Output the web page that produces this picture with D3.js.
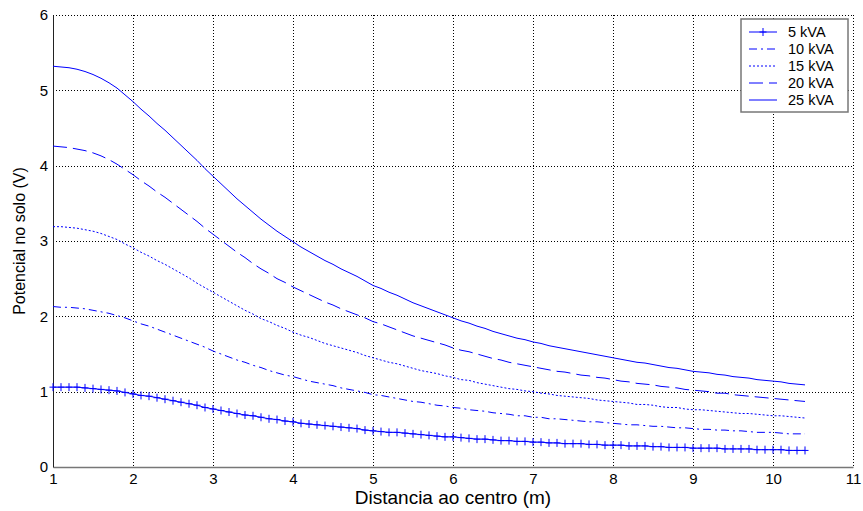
<!DOCTYPE html>
<meta charset="utf-8">
<style>
body { margin: 0; background: #fff; }
svg { display: block; }
.tick text { font: 15px Arial, "Liberation Sans", sans-serif; fill: #000; }
.xlabel { font: 19px Arial, "Liberation Sans", sans-serif; fill: #000; }
.ylabel { font: 16px Arial, "Liberation Sans", sans-serif; fill: #000; }
.legend text { font: 14.5px Arial, "Liberation Sans", sans-serif; fill: #000; }
.grid line { stroke: #000; stroke-width: 1; stroke-dasharray: 1,2; shape-rendering: crispEdges; }
</style>
<script src="https://d3js.org/d3.v7.min.js"></script>
<body>
<svg width="863" height="511"></svg>
<script>

// distance from centre (m)
var distancia = [
  1.0,1.1,1.2,1.3,1.4,1.5,1.6,1.7,1.8,1.9,
  2.0,2.1,2.2,2.3,2.4,2.5,2.6,2.7,2.8,2.9,
  3.0,3.1,3.2,3.3,3.4,3.5,3.6,3.7,3.8,3.9,
  4.0,4.1,4.2,4.3,4.4,4.5,4.6,4.7,4.8,4.9,
  5.0,5.1,5.2,5.3,5.4,5.5,5.6,5.7,5.8,5.9,
  6.0,6.1,6.2,6.3,6.4,6.5,6.6,6.7,6.8,6.9,
  7.0,7.1,7.2,7.3,7.4,7.5,7.6,7.7,7.8,7.9,
  8.0,8.1,8.2,8.3,8.4,8.5,8.6,8.7,8.8,8.9,
  9.0,9.1,9.2,9.3,9.4,9.5,9.6,9.7,9.8,9.9,
  10.0,10.1,10.2,10.3,10.4
];

var v5 = [
  1.06,1.06,1.06,1.06,1.05,1.04,1.03,1.02,1.01,0.99,
  0.97,0.95,0.94,0.92,0.90,0.88,0.86,0.84,0.82,0.79,
  0.77,0.75,0.73,0.71,0.69,0.68,0.66,0.64,0.63,0.61,
  0.60,0.58,0.57,0.56,0.55,0.54,0.53,0.52,0.51,0.49,
  0.48,0.47,0.46,0.46,0.45,0.44,0.43,0.42,0.41,0.40,
  0.40,0.39,0.38,0.37,0.37,0.36,0.35,0.35,0.34,0.34,
  0.33,0.33,0.32,0.32,0.31,0.31,0.31,0.30,0.30,0.29,
  0.29,0.29,0.28,0.28,0.28,0.27,0.27,0.26,0.26,0.26,
  0.25,0.25,0.25,0.25,0.24,0.24,0.24,0.24,0.23,0.23,
  0.23,0.23,0.22,0.22,0.22
];

var v10 = [
  2.13,2.12,2.12,2.11,2.10,2.08,2.06,2.04,2.01,1.98,
  1.94,1.90,1.87,1.83,1.79,1.75,1.71,1.67,1.63,1.59,
  1.54,1.50,1.46,1.42,1.39,1.35,1.32,1.28,1.25,1.22,
  1.20,1.17,1.14,1.12,1.10,1.08,1.05,1.03,1.01,0.99,
  0.96,0.95,0.93,0.91,0.89,0.87,0.86,0.84,0.82,0.81,
  0.79,0.78,0.76,0.75,0.74,0.72,0.71,0.70,0.68,0.68,
  0.66,0.66,0.64,0.64,0.63,0.62,0.61,0.60,0.60,0.59,
  0.58,0.57,0.56,0.56,0.55,0.54,0.54,0.53,0.52,0.52,
  0.51,0.50,0.50,0.49,0.49,0.48,0.48,0.47,0.46,0.46,
  0.46,0.45,0.44,0.44,0.44
];

var v15 = [
  3.19,3.19,3.18,3.17,3.15,3.13,3.10,3.06,3.02,2.96,
  2.91,2.85,2.80,2.74,2.69,2.63,2.57,2.51,2.44,2.38,
  2.32,2.26,2.20,2.14,2.08,2.03,1.97,1.93,1.88,1.84,
  1.79,1.75,1.72,1.68,1.64,1.61,1.58,1.55,1.52,1.48,
  1.45,1.42,1.39,1.37,1.34,1.31,1.28,1.26,1.24,1.21,
  1.19,1.16,1.15,1.12,1.10,1.08,1.06,1.04,1.03,1.01,
  1.00,0.98,0.97,0.95,0.94,0.93,0.92,0.91,0.89,0.88,
  0.87,0.86,0.85,0.83,0.83,0.82,0.80,0.79,0.79,0.77,
  0.76,0.76,0.75,0.74,0.73,0.72,0.71,0.71,0.70,0.69,
  0.68,0.68,0.67,0.66,0.65
];

var v20 = [
  4.26,4.25,4.24,4.22,4.20,4.17,4.13,4.08,4.02,3.95,
  3.88,3.80,3.73,3.65,3.58,3.50,3.42,3.34,3.26,3.17,
  3.09,3.01,2.93,2.85,2.78,2.70,2.63,2.57,2.50,2.45,
  2.39,2.34,2.29,2.24,2.19,2.15,2.10,2.06,2.02,1.98,
  1.93,1.90,1.86,1.82,1.78,1.74,1.71,1.68,1.65,1.62,
  1.58,1.55,1.53,1.50,1.47,1.44,1.42,1.39,1.37,1.35,
  1.33,1.31,1.29,1.27,1.26,1.24,1.22,1.21,1.19,1.18,
  1.16,1.14,1.13,1.11,1.10,1.09,1.07,1.06,1.05,1.03,
  1.02,1.01,1.00,0.98,0.98,0.96,0.95,0.94,0.93,0.92,
  0.91,0.90,0.89,0.88,0.87
];

var v25 = [
  5.32,5.31,5.30,5.28,5.25,5.21,5.16,5.10,5.03,4.94,
  4.85,4.75,4.66,4.56,4.47,4.37,4.27,4.17,4.07,3.96,
  3.86,3.76,3.66,3.56,3.47,3.38,3.29,3.21,3.13,3.06,
  2.99,2.92,2.86,2.80,2.74,2.69,2.63,2.58,2.53,2.47,
  2.41,2.37,2.32,2.28,2.23,2.18,2.14,2.10,2.06,2.02,
  1.98,1.94,1.91,1.87,1.84,1.80,1.77,1.74,1.71,1.69,
  1.66,1.64,1.61,1.59,1.57,1.55,1.53,1.51,1.49,1.47,
  1.45,1.43,1.41,1.39,1.38,1.36,1.34,1.32,1.31,1.29,
  1.27,1.26,1.25,1.23,1.22,1.20,1.19,1.18,1.16,1.15,
  1.14,1.13,1.11,1.10,1.09
];

var nomes = ["5 kVA", "10 kVA", "15 kVA", "20 kVA", "25 kVA"];
var xTicks = [1,2,3,4,5,6,7,8,9,10,11];
var yTicks = [0,1,2,3,4,5,6];

var series = [
  {name: nomes[0], values: v5,  dash: null,      marker: true},
  {name: nomes[1], values: v10, dash: "8,4,2,4", marker: false},
  {name: nomes[2], values: v15, dash: "2,2",     marker: false},
  {name: nomes[3], values: v20, dash: "14,6",    marker: false},
  {name: nomes[4], values: v25, dash: null,      marker: false}
];

var svg = d3.select("svg"),
    margin = {top: 15, right: 10, bottom: 44, left: 53},
    width = 863 - margin.left - margin.right,
    height = 511 - margin.top - margin.bottom,
    g = svg.append("g").attr("transform", "translate(" + margin.left + "," + margin.top + ")");

var x = d3.scaleLinear().domain([1, 11]).range([0, width]);
var y = d3.scaleLinear().domain([0, 6]).range([height, 0]);

// dotted grid
g.append("g").attr("class", "grid")
  .selectAll("line").data(xTicks.slice(1)).enter().append("line")
    .attr("x1", function(d) { return Math.round(x(d)) + 0.5; })
    .attr("x2", function(d) { return Math.round(x(d)) + 0.5; })
    .attr("y1", 0).attr("y2", height);
g.append("g").attr("class", "grid")
  .selectAll("line").data(yTicks.slice(1)).enter().append("line")
    .attr("y1", function(d) { return Math.round(y(d)) + 0.5; })
    .attr("y2", function(d) { return Math.round(y(d)) + 0.5; })
    .attr("x1", 0).attr("x2", width);

// axes
var xAxis = g.append("g")
    .attr("transform", "translate(0," + height + ")")
    .call(d3.axisBottom(x).tickValues(xTicks).tickSize(0).tickPadding(6).tickFormat(d3.format("d")));
xAxis.select(".domain").attr("stroke", "#777").attr("stroke-width", 1.5);

var yAxis = g.append("g")
    .call(d3.axisLeft(y).tickValues(yTicks).tickSize(0).tickPadding(5).tickFormat(d3.format("d")));
yAxis.select(".domain").attr("stroke", "#222");

// curves
var line = d3.line()
    .x(function(d, i) { return x(distancia[i]); })
    .y(function(d) { return y(d); });

series.forEach(function(s) {
  g.append("path")
    .datum(s.values)
    .attr("fill", "none")
    .attr("stroke", "#0000ff")
    .attr("stroke-width", 1)
    .attr("stroke-dasharray", s.dash)
    .attr("d", line);
  if (s.marker) {
    g.append("g").selectAll("path").data(s.values).enter().append("path")
      .attr("transform", function(d, i) { return "translate(" + x(distancia[i]) + "," + y(d) + ")"; })
      .attr("d", "M-3.5,0H3.5M0,-4V4")
      .attr("stroke", "#0000ff")
      .attr("stroke-width", 1);
  }
});

// axis labels
svg.append("text").attr("class", "xlabel")
  .attr("x", margin.left + width / 2)
  .attr("y", 504)
  .attr("text-anchor", "middle")
  .text("Distancia ao centro (m)");

svg.append("text").attr("class", "ylabel")
  .attr("transform", "translate(25," + (margin.top + height / 2) + ") rotate(-90)")
  .attr("text-anchor", "middle")
  .text("Potencial no solo (V)");

// legend
var legend = svg.append("g").attr("class", "legend").attr("transform", "translate(741,19)");
legend.append("rect")
  .attr("width", 107).attr("height", 93)
  .attr("fill", "#fff").attr("stroke", "#777").attr("stroke-width", 1.5);

var item = legend.selectAll(".item").data(series).enter().append("g")
  .attr("class", "item")
  .attr("transform", function(d, i) { return "translate(0," + (13 + i * 17) + ")"; });
item.append("line")
  .attr("x1", 8).attr("x2", 36)
  .attr("stroke", "#0000ff").attr("stroke-width", 1)
  .attr("stroke-dasharray", function(d) { return d.dash; });
item.filter(function(d) { return d.marker; }).append("path")
  .attr("transform", "translate(22,0)")
  .attr("d", "M-3.5,0H3.5M0,-4V4")
  .attr("stroke", "#0000ff");
item.append("text")
  .attr("x", 47).attr("dy", "0.36em")
  .text(function(d) { return d.name; });

</script>
</body>
